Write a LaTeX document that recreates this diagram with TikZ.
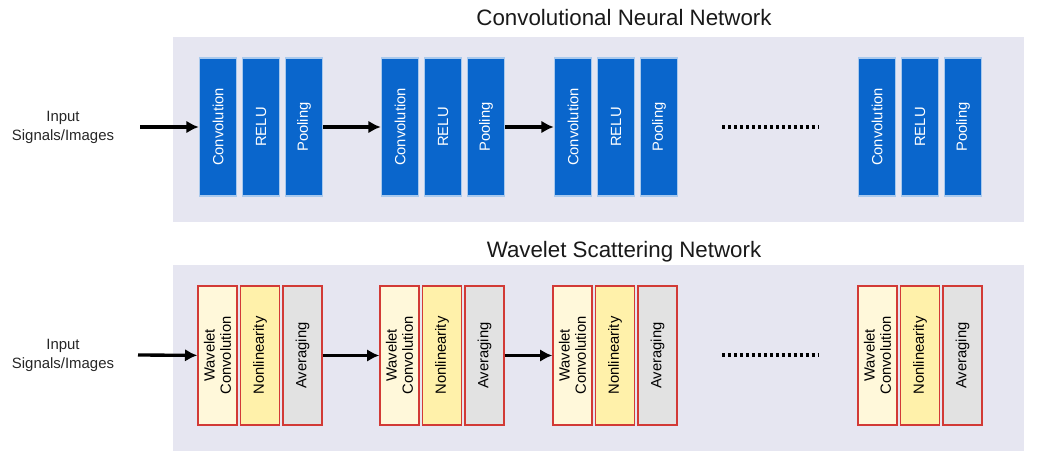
\documentclass[tikz,border=0pt]{standalone}
\usepackage{fontspec}
\setmainfont{Liberation Sans}
\usetikzlibrary{arrows.meta}
\definecolor{panelbg}{HTML}{E6E6F1}
\definecolor{cnnblue}{HTML}{0A66CC}
\definecolor{wvborder}{HTML}{D23A36}
\definecolor{wvpale}{HTML}{FFF8DA}
\definecolor{wvyellow}{HTML}{FFF1AA}
\definecolor{wvgray}{HTML}{E2E2E2}
\tikzset{
  cnnbox/.style={draw=cnnblue!35!white, line width=0.6pt, fill=cnnblue, text=white, rotate=90,
    minimum width=2.76cm, minimum height=0.75cm, inner sep=0pt, align=center},
  wsnbox/.style={draw=wvborder, line width=0.8pt, rotate=90, minimum width=2.78cm,
    minimum height=0.78cm, inner sep=0pt, align=center},
  arr/.style={line width=1.9pt, -{Latex[length=7pt,width=7.2pt]}},
  dots/.style={line width=1.8pt, dash pattern=on 1.8pt off 1.6pt},
  title/.style={font=\fontsize{12.7}{14}\selectfont, text=black!90},
  inlabel/.style={font=\fontsize{8.5}{10.8}\selectfont, align=center, text=black!85}
}
\begin{document}
\begin{tikzpicture}[x=0.02cm, y=-0.02cm, every node/.style={font=\fontsize{8.4}{9.2}\selectfont}]
\useasboundingbox (0,0) rectangle (1043,459);
\fill[panelbg] (173,37) rectangle (1024,222);
\fill[panelbg] (173,265) rectangle (1024,451);
\node[title] (cnntitle) at (624,18) {Convolutional Neural Network};
\node[title] (wsntitle) at (624,252) {Wavelet Scattering Network};
% top row
\node[inlabel] (in1) at (63,127) {Input\\Signals/Images};
\coordinate (src1) at (140,127);
\foreach \g/\x in {1/218,2/400,3/573,4/877}{
  \node[cnnbox] (conv\g) at (\x,127) {Convolution};
  \node[cnnbox] (relu\g) at (\x+43,127) {RELU};
  \node[cnnbox] (pool\g) at (\x+86,127) {Pooling};
}
\draw[arr] (src1) -- (conv1);
\draw[arr] (pool1) -- (conv2);
\draw[arr] (pool2) -- (conv3);
\coordinate (dotA) at (722,127);
\coordinate (dotB) at (819,127);
\draw[dots] (dotA) -- (dotB);
% bottom row
\node[inlabel] (in2) at (63,355) {Input\\Signals/Images};
\coordinate (src2) at (138,355);
\foreach \g/\x in {1/217.5,2/399.5,3/572.5,4/877.5}{
  \node[wsnbox, fill=wvpale] (wconv\g) at (\x,355.5) {Wavelet\\Convolution};
  \node[wsnbox, fill=wvyellow] (nonl\g) at (\x+42.5,355.5) {Nonlinearity};
  \node[wsnbox, fill=wvgray] (avg\g) at (\x+85,355.5) {Averaging};
}
\draw[arr] (src2) -- (wconv1);
\draw[arr] (avg1) -- (wconv2);
\draw[arr] (avg2) -- (wconv3);
\coordinate (dotC) at (722,355);
\coordinate (dotD) at (819,355);
\draw[dots] (dotC) -- (dotD);
\end{tikzpicture}
\end{document}
